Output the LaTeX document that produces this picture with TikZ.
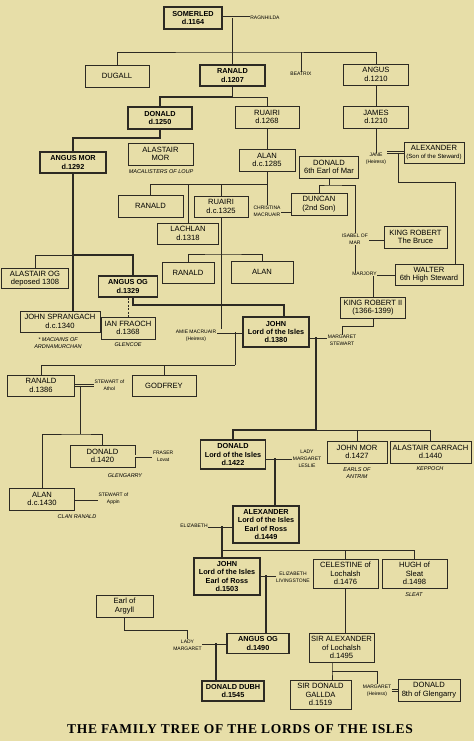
\documentclass[tikz,border=0pt]{standalone}
\usepackage{fontspec}
\setmainfont{Liberation Sans}
\newfontfamily\titlefont[LetterSpace=5]{Liberation Serif}
\usetikzlibrary{positioning}
\definecolor{paper}{RGB}{231,222,168}
\definecolor{ink}{RGB}{45,42,35}

\begin{document}
\begin{tikzpicture}[x=1pt, y=-1pt,
    person/.style={draw=ink, line width=0.6pt, fill=paper, inner sep=0pt, align=center,
        minimum height=22pt, font=\fontsize{7.6}{8.4}\selectfont},
    lord/.style={person, line width=1.3pt, font=\fontsize{7.3}{8.4}\selectfont\bfseries},
    spouse/.style={inner sep=0.5pt, align=center, font=\fontsize{5}{7}\selectfont},
    branch/.style={inner sep=0pt, align=center, font=\fontsize{5.5}{7.5}\selectfont\itshape},
    kin/.style={draw=ink, line width=0.6pt},
    main/.style={draw=ink, line width=1.3pt},
    wed/.style={draw=ink, line width=3pt,
        postaction={draw=paper, line width=1.1pt, shorten <=-0.1pt, shorten >=-0.1pt}}]

    \useasboundingbox (0,0) rectangle (474,741);
    \fill[paper] (0,0) rectangle (474,741);

    \node [lord, minimum width=58pt] (somerled) at (193,18) {SOMERLED\\d.1164};
    \node [spouse, right=27pt of somerled] (ragnhilda) {RAGNHILDA};
    \node [person, minimum width=64pt] (dugall) at (117,76) {DUGALL};
    \node [lord, minimum width=65pt, minimum height=21pt] (ranald) at (232.5,75.5) {RANALD\\d.1207};
    \node [spouse] (beatrix) at (301,74) {BEATRIX};
    \node [person, minimum width=65pt, minimum height=21pt] (angus) at (376,74.5) {ANGUS\\d.1210};
    \node [person, minimum width=65pt] (james) at (376,117) {JAMES\\d.1210};

    \node [lord, minimum width=64pt] (donald1250) at (160,118) {DONALD\\d.1250};
    \node [person, minimum width=64pt] (ruairi1268) at (267,117) {RUAIRI\\d.1268};
    \node [lord, minimum width=66pt, minimum height=21pt] (angusmor) at (73,162.5) {ANGUS MOR\\d.1292};
    \node [person, minimum width=65pt] (alastairmor) at (160.5,154) {ALASTAIR\\MOR};
    \node [branch] (macalisters) at (161,172) {MACALISTERS OF LOUP};
    \node [person, minimum width=56pt] (alan1285) at (267,160) {ALAN\\d.c.1285};
    \node [person, minimum width=59pt] (donaldmar) at (329,167) {DONALD\\6th Earl of Mar};
    \node [spouse] (jane) at (376,159) {JANE\\(Heiress)};
    \node [person, minimum width=60pt, minimum height=21pt] (alexsteward) at (434,152.5)
        {ALEXANDER\\{\fontsize{6}{7}\selectfont(Son of the Steward)}};

    \node [person, minimum width=65pt] (ranald2) at (150.5,206) {RANALD};
    \node [person, minimum width=54pt, minimum height=21pt] (ruairi1325) at (221,206.5) {RUAIRI\\d.c.1325};
    \node [person, minimum width=61pt, minimum height=21pt] (lachlan) at (188,233.5) {LACHLAN\\d.1318};
    \node [spouse] (christina) at (267,211) {CHRISTINA\\MACRUAIR};
    \node [person, minimum width=56pt] (duncan) at (319,204) {DUNCAN\\(2nd Son)};
    \node [spouse] (isabel) at (355,239) {ISABEL OF\\MAR};
    \node [person, minimum width=63pt] (robertbruce) at (415.5,237) {KING ROBERT\\The Bruce};

    \node [person, minimum width=52pt, minimum height=21pt] (ranald3) at (188,272.5) {RANALD};
    \node [person, minimum width=62pt] (alan3) at (262,272) {ALAN};
    \node [spouse] (marjory) at (364.5,274) {MARJORY};
    \node [person, minimum width=68pt, minimum height=21pt] (walter) at (429,274.5) {WALTER\\6th High Steward};
    \node [person, minimum width=67pt, minimum height=20pt] (alastairog) at (35,278.5) {ALASTAIR OG\\deposed 1308};
    \node [lord, minimum width=59pt, minimum height=21pt] (angusog1329) at (128,286.5) {ANGUS OG\\d.1329};
    \node [person, minimum width=65pt, minimum height=21pt] (robert2) at (373,307.5) {KING ROBERT II\\(1366-1399)};
    \node [person, minimum width=80pt, minimum height=21pt] (johnsprangach) at (60,321.5) {JOHN SPRANGACH\\d.c.1340};
    \node [branch] (maciains) at (58,343) {* MACIAINS OF\\ARDNAMURCHAN};
    \node [person, minimum width=54pt] (ianfraoch) at (128,328) {IAN FRAOCH\\d.1368};
    \node [branch] (glencoe) at (128,344.5) {GLENCOE};
    \node [lord, minimum width=66pt, minimum height=30pt] (john1380) at (276,332) {JOHN\\Lord of the Isles\\d.1380};
    \node [spouse] (amie) at (196,335.5) {AMIE MACRUAIR\\(Heiress)};
    \node [spouse] (margaretstewart) at (342,340.5) {MARGARET\\STEWART};

    \node [person, minimum width=67pt, minimum height=21pt] (ranald1386) at (41,385.5) {RANALD\\d.1386};
    \node [spouse, right=19pt of ranald1386] (stewartathol) {STEWART of\\Athol};
    \node [person, minimum width=64pt, minimum height=21pt] (godfrey) at (164,385.5) {GODFREY};
    \node [person, minimum width=65pt] (donald1420) at (102.5,456) {DONALD\\d.1420};
    \node [spouse, right=17pt of donald1420] (fraser) {FRASER\\Lovat};
    \node [branch] (glengarry) at (125,476) {GLENGARRY};
    \node [lord, minimum width=65pt, minimum height=29pt] (donald1422) at (233,454.5) {DONALD\\Lord of the Isles\\d.1422};
    \node [spouse] (margaretleslie) at (307,459) {LADY\\MARGARET\\LESLIE};
    \node [person, minimum width=60pt] (johnmor) at (357,452) {JOHN MOR\\d.1427};
    \node [branch] (antrim) at (357,473) {EARLS OF\\ANTRIM};
    \node [person, minimum width=81pt] (alastaircarrach) at (430.5,452) {ALASTAIR CARRACH\\d.1440};
    \node [branch] (keppoch) at (430,469) {KEPPOCH};

    \node [person, minimum width=65pt] (alan1430) at (42,499) {ALAN\\d.c.1430};
    \node [spouse, right=23pt of alan1430] (stewartappin) {STEWART of\\Appin};
    \node [branch] (clanranald) at (77,517) {CLAN RANALD};
    \node [lord, minimum width=66pt, minimum height=37pt] (alexander1449) at (266,524.5)
        {ALEXANDER\\Lord of the Isles\\Earl of Ross\\d.1449};
    \node [spouse] (elizabeth) at (194,526) {ELIZABETH};
    \node [lord, minimum width=66pt, minimum height=37pt] (john1503) at (227,576.5)
        {JOHN\\Lord of the Isles\\Earl of Ross\\d.1503};
    \node [spouse] (elizabethliv) at (293,577) {ELIZABETH\\LIVINGSTONE};
    \node [person, minimum width=65pt, minimum height=29pt] (celestine) at (345.5,573.5) {CELESTINE of\\Lochalsh\\d.1476};
    \node [person, minimum width=65pt, minimum height=29pt] (hugh) at (414.5,573.5) {HUGH of\\Sleat\\d.1498};
    \node [branch] (sleat) at (414,595) {SLEAT};

    \node [person, minimum width=57pt] (argyll) at (124.5,606) {Earl of\\Argyll};
    \node [spouse] (ladymargaret) at (187.5,645) {LADY\\MARGARET};
    \node [lord, minimum width=62pt, minimum height=20pt] (angusog1490) at (258,643.5) {ANGUS OG\\d.1490};
    \node [person, minimum width=65pt, minimum height=29pt] (siralexander) at (341.5,647.5) {SIR ALEXANDER\\of Lochalsh\\d.1495};
    \node [lord, minimum width=62pt, minimum height=20pt] (donalddubh) at (233,691) {DONALD DUBH\\d.1545};
    \node [person, minimum width=61pt, minimum height=29pt] (sirdonald) at (320.5,694.5) {SIR DONALD\\GALLDA\\d.1519};
    \node [spouse] (margaretheiress) at (377,690.5) {MARGARET\\(Heiress)};
    \node [person, minimum width=62pt] (glengarry8) at (429,690) {DONALD\\8th of Glengarry};

    \node [font=\titlefont\bfseries\fontsize{13.5}{15}\selectfont] (title) at (240,729)
        {THE FAMILY TREE OF THE LORDS OF THE ISLES};

    \coordinate (sr) at (232.5,18);
    \coordinate (sk) at (232.5,52);
    \coordinate (rk) at (232.5,97);
    \coordinate (dk) at (160,138);
    \coordinate (ak) at (267,184);
    \coordinate (mk) at (329,185);
    \coordinate (ja) at (398,152.5);
    \coordinate (jak) at (455,182);
    \coordinate (amk) at (73,255);
    \coordinate (rk2) at (221,254);
    \coordinate (ogk) at (133,305);
    \coordinate (rmk) at (373,326);
    \coordinate (jam) at (235,332);
    \coordinate (jamk) at (235,365);
    \coordinate (jms) at (316,337);
    \coordinate (jmk) at (316,430);
    \coordinate (rs) at (80,385.5);
    \coordinate (rsk) at (80,434);
    \coordinate (dml) at (275,458);
    \coordinate (ea) at (222,526);
    \coordinate (eak) at (222,550);
    \coordinate (jl) at (266,575);
    \coordinate (agk) at (124.5,630);
    \coordinate (la) at (216,643);
    \coordinate (sak) at (332,671);

    \draw [wed] (somerled.east) -- (ragnhilda.west);
    \draw [wed] (alexsteward.west) -- (alexsteward.west -| jane.east);
    \draw [wed] (christina.east) -- (christina.east -| duncan.west);
    \draw [wed] (isabel.east) -- (isabel.east -| robertbruce.west);
    \draw [wed] (marjory.east) -- (marjory.east -| walter.west);
    \draw [wed] (jam -| amie.east) -- (jam -| john1380.west);
    \draw [wed] (jms -| john1380.east) -- (jms -| margaretstewart.west);
    \draw [wed] (ranald1386) -- (stewartathol);
    \draw [wed] (donald1420) -- (fraser);
    \draw [wed] (dml -| donald1422.east) -- (dml -| margaretleslie.west);
    \draw [wed] (alan1430) -- (stewartappin);
    \draw [wed] (ea -| elizabeth.east) -- (ea -| alexander1449.west);
    \draw [wed] (jl -| john1503.east) -- (jl -| elizabethliv.west);
    \draw [wed] (la -| ladymargaret.east) -- (la -| angusog1490.west);
    \draw [wed] (margaretheiress.east) -- (margaretheiress.east -| glengarry8.west);

    \draw [main] (sr) -- (ranald.north);
    \draw [kin] (dugall.north) |- (sk) -| (angus.north);
    \draw [kin] (beatrix.north) -- (beatrix.north |- sk);
    \draw [kin] (angus.south) -- (james.north);
    \draw [kin] (james.south) -- (jane.north);
    \draw [main] (ranald.south) -- (rk) -| (donald1250.north);
    \draw [kin] (rk) -| (ruairi1268.north);
    \draw [main] (donald1250.south) -- (dk) -| (angusmor.north);
    \draw [kin] (ruairi1268.south) -- (alan1285.north);
    \draw [kin] (alan1285.south) -- (alan1285.south |- christina.north);
    \draw [kin] (ranald2.north) |- (ak);
    \draw [kin] (lachlan.north) -- (lachlan.north |- ak);
    \draw [kin] (ruairi1325.north) -- (ruairi1325.north |- ak);
    \draw [kin] (ruairi1325.south) -- (ruairi1325.south |- amie.north);
    \draw [kin] (ranald3.north) |- (rk2) -| (alan3.north);
    \draw [kin] (donaldmar.south) -- (mk);
    \draw [kin] (duncan.north) |- (mk) -| (isabel.north);
    \draw [kin] (isabel.south) -- (isabel.south |- marjory.north);
    \draw [kin] (marjory.south -| robert2.north) -- (robert2.north);
    \draw [kin] (ja) |- (jak) -- (jak |- walter.north);
    \draw [kin] (robert2.south) |- (rmk) -| (margaretstewart.north);

    \draw [main] (angusmor.south) -- (amk |- johnsprangach.north);
    \draw [kin] (alastairog.north) |- (amk);
    \draw [main] (amk) -| ([xshift=5pt]angusog1329.north);
    \draw [main] ([xshift=5pt]angusog1329.south) |- (ogk) -| ([xshift=8pt]john1380.north);
    \draw [kin, line width=1pt, dash pattern=on 2pt off 1.5pt] (angusog1329.south) -- (ianfraoch.north);
    \draw [kin] (jam) -- (jamk);
    \draw [kin] (ranald1386.north) |- (jamk);
    \draw [kin] (godfrey.north) -- (godfrey.north |- jamk);
    \draw [main] (jms) -- (jmk);
    \draw [main] (donald1422.north) |- (jmk);
    \draw [kin] (jmk) -| (alastaircarrach.north);
    \draw [kin] (johnmor.north) -- (johnmor.north |- jmk);
    \draw [kin] (rs) -- (rsk);
    \draw [kin] (alan1430.north) |- (rsk) -| (donald1420.north);
    \draw [main] (dml) -- (dml |- alexander1449.north);
    \draw [main] (ea) -- (ea |- john1503.north);
    \draw [kin] (eak) -| (hugh.north);
    \draw [kin] (celestine.north) -- (celestine.north |- eak);
    \draw [main] (jl) -- (jl |- angusog1490.north);
    \draw [kin] (celestine.south) -- (celestine.south |- siralexander.north);
    \draw [kin] (sak |- siralexander.south) -- (sak) -- (sak |- sirdonald.north);
    \draw [kin] (sak) -| (margaretheiress.north);
    \draw [kin] (argyll.south) |- (agk) -| (ladymargaret.north);
    \draw [main] (la) -- (la |- donalddubh.north);
\end{tikzpicture}
\end{document}
